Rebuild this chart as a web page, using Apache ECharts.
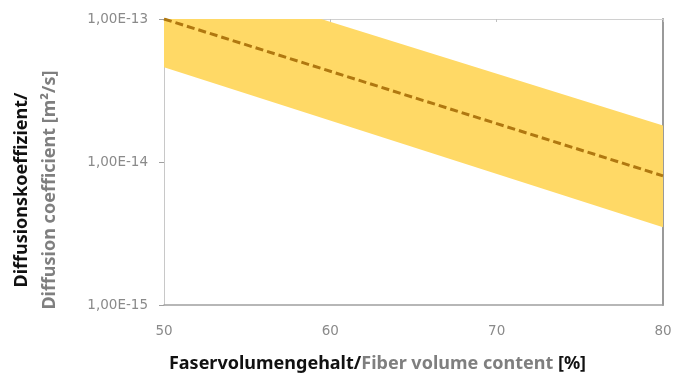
<!DOCTYPE html>
<html><head><meta charset="utf-8">
<script src="https://cdn.jsdelivr.net/npm/echarts@6/dist/echarts.min.js"></script>
<style>html,body{margin:0;padding:0;background:#fff}#c{width:680px;height:379px}</style>
</head><body><div id="c"></div>
<script>
const xValues = [50, 80];
const upperValues = [2.2e-13, 1.8e-14];
const lowerValues = [4.6e-14, 3.5e-15];
const meanValues = [1.0e-13, 8.0e-15];
const xTicks = [50, 60, 70, 80];
const yTicks = [1e-15, 1e-14, 1e-13];

const chart = echarts.init(document.getElementById('c'));
const font = 'Noto Sans';
const tickFont = 'DejaVu Sans';
chart.setOption({
  animation: false,
  grid: {left: 164, right: 17, top: 19, bottom: 74, containLabel: false, outerBoundsMode: 'none'},
  xAxis: [{
    type: 'value', min: 50, max: 80, interval: 10,
    axisLine: {show: true, onZero: false, lineStyle: {color: '#a0a0a0', width: 1.5}},
    axisTick: {show: false},
    splitLine: {show: false},
    axisLabel: {color: '#8a8a8a', fontFamily: tickFont, fontSize: 13.5, margin: 19},
    name: '{b|Faservolumengehalt/}{g|Fiber volume content}{b| [%]}',
    nameLocation: 'middle', nameGap: 50,
    nameTextStyle: {
      padding: [0, 72, 0, 0],
      rich: {
        b: {fontFamily: font, fontWeight: 'bold', fontSize: 18, color: '#111'},
        g: {fontFamily: font, fontWeight: 'bold', fontSize: 18, color: '#7f7f7f'}
      }
    }
  }, {
    type: 'value', position: 'top', min: 50, max: 80, interval: 10,
    axisLine: {show: true, onZero: false, lineStyle: {color: '#d0d0d0', width: 1}},
    axisTick: {show: true, inside: true, length: 3, lineStyle: {color: '#c0c0c0'}},
    axisLabel: {show: false}, splitLine: {show: false}
  }],
  yAxis: [{
    type: 'log', logBase: 10, min: 1e-15, max: 1e-13,
    axisLine: {show: true, lineStyle: {color: '#c8c8c8', width: 1}},
    axisTick: {show: true, inside: false, length: 5, lineStyle: {color: '#a0a0a0'}},
    splitLine: {show: false},
    axisLabel: {
      color: '#8a8a8a', fontFamily: tickFont, fontSize: 13.5, margin: 16,
      formatter: v => '1,00E' + Math.round(Math.log10(v))
    },
    name: '{b|Diffusionskoeffizient/}\n{g|Diffusion coefficient [m²/s]}',
    nameLocation: 'middle', nameRotate: 90, nameGap: 100,
    nameTextStyle: {
      lineHeight: 28,
      padding: [0, 56, 0, 0],
      rich: {
        b: {fontFamily: font, fontWeight: 'bold', fontSize: 18, color: '#111', lineHeight: 28},
        g: {fontFamily: font, fontWeight: 'bold', fontSize: 18, color: '#7f7f7f', lineHeight: 28}
      }
    }
  }, {
    type: 'log', logBase: 10, min: 1e-15, max: 1e-13, position: 'right',
    axisLine: {show: true, lineStyle: {color: '#9a9a9a', width: 2}},
    axisTick: {show: false}, axisLabel: {show: false}, splitLine: {show: false}
  }],
  series: [
    {
      type: 'custom', clip: true, z: 2,
      data: xValues.map((x, i) => [x, lowerValues[i], upperValues[i]]),
      renderItem: function (params, api) {
        if (params.dataIndex !== 0) return;
        const up = xValues.map((x, i) => api.coord([x, upperValues[i]]));
        const lo = xValues.map((x, i) => api.coord([x, lowerValues[i]])).reverse();
        return {
          type: 'polygon',
          shape: {points: up.concat(lo)},
          style: {fill: '#ffd966', stroke: null}
        };
      }
    },
    {
      type: 'line', symbol: 'none', clip: true,
      data: xValues.map((x, i) => [x, meanValues[i]]),
      lineStyle: {color: '#b07810', width: 3, type: [8, 4]},
      z: 5
    }
  ]
});
</script>
</body></html>
